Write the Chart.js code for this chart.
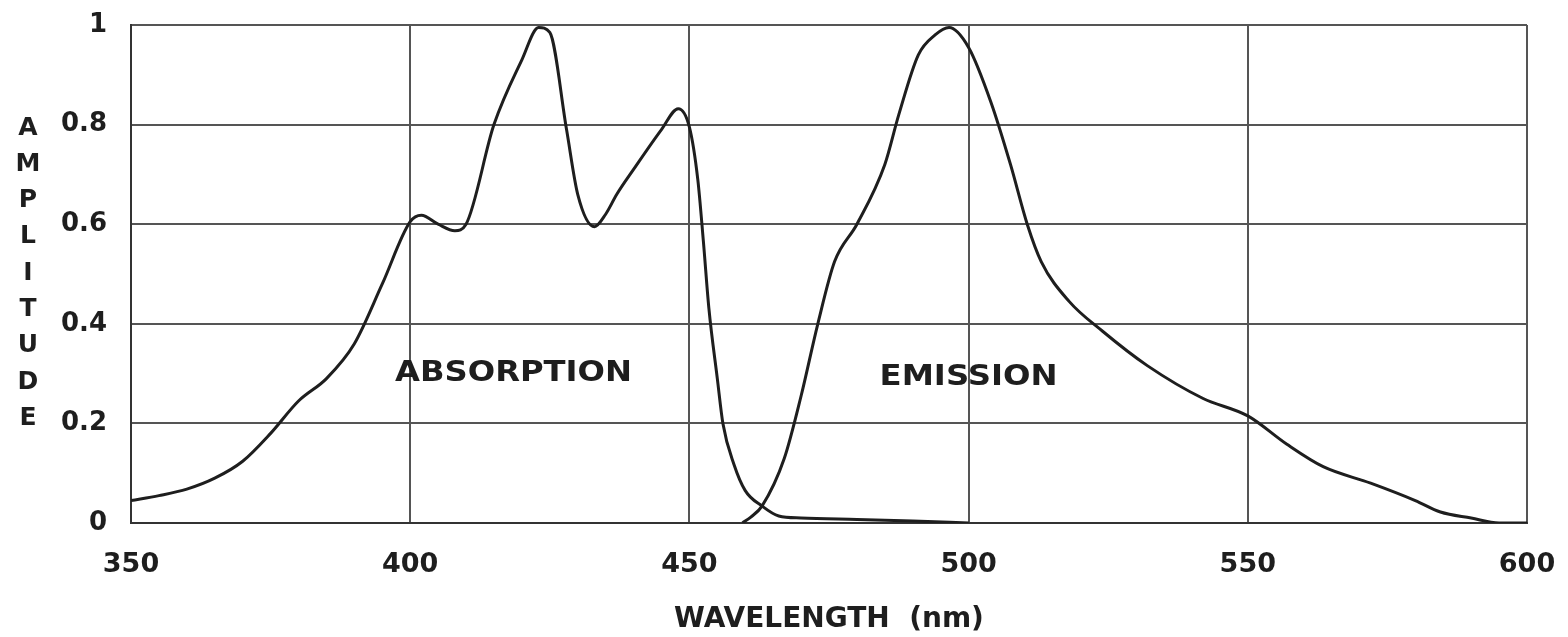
<!DOCTYPE html>
<html>
<head>
<meta charset="utf-8">
<script src="https://cdn.jsdelivr.net/npm/chart.js@4/dist/chart.umd.min.js"></script>
<style>
  html, body { margin: 0; padding: 0; background: #fff; }
  #wrap { width: 1568px; height: 637px; }
</style>
</head>
<body>
<div id="wrap"><canvas id="spectrum"></canvas></div>
<script>
// wavelengths (nm) and amplitudes
const absWavelength = [350, 355, 360, 365, 370, 375, 380, 385, 390, 395, 400, 402, 405, 408, 410, 415, 420, 423, 425, 428, 430, 433, 435, 437, 440, 445, 448, 450, 451.5, 452.5, 453.5, 455, 456, 458, 460, 463, 466, 470, 480, 490, 500];
const absAmplitude  = [0.045, 0.055, 0.068, 0.09, 0.124, 0.18, 0.245, 0.29, 0.36, 0.48, 0.605, 0.618, 0.6, 0.587, 0.6, 0.8, 0.93, 0.995, 0.985, 0.79, 0.66, 0.595, 0.62, 0.66, 0.71, 0.79, 0.832, 0.795, 0.69, 0.566, 0.43, 0.29, 0.2, 0.117, 0.065, 0.034, 0.014, 0.01, 0.007, 0.004, 0.0];

const emWavelength = [459.5, 461, 463, 467, 470, 473, 476, 480, 485, 487.5, 491, 494, 496.5, 500, 504, 507.5, 510.5, 513, 518, 524, 532, 542, 550, 557, 563.5, 572, 580, 584.5, 590, 595, 600];
const emAmplitude  = [0.0, 0.012, 0.034, 0.13, 0.255, 0.4, 0.525, 0.6, 0.72, 0.82, 0.94, 0.98, 0.995, 0.955, 0.845, 0.72, 0.6, 0.525, 0.445, 0.385, 0.316, 0.25, 0.215, 0.158, 0.113, 0.08, 0.045, 0.022, 0.01, 0.0, 0.0];

const xTicks = [350, 400, 450, 500, 550, 600];
const yTicks = [0, 0.2, 0.4, 0.6, 0.8, 1];
const yTitleLetters = ['A', 'M', 'P', 'L', 'I', 'T', 'U', 'D', 'E'];

const ink = '#1e1e1e';
const fontFamily = '"DejaVu Sans", "Liberation Sans", sans-serif';

function toPoints(xs, ys) {
  return xs.map((x, i) => ({ x: x, y: ys[i] }));
}

// draw text stretched sideways to a given width (the scan uses a wide face)
function wideText(ctx, text, cx, cy, width) {
  const w = ctx.measureText(text).width;
  ctx.save();
  ctx.translate(cx, cy);
  ctx.scale(width / w, 1);
  ctx.fillText(text, 0, 0);
  ctx.restore();
}

// curve names and the stacked y title
const labelsPlugin = {
  id: 'curveLabels',
  afterDraw(chart) {
    const ctx = chart.ctx;
    const xs = chart.scales.x, ys = chart.scales.y;
    ctx.save();
    ctx.fillStyle = ink;
    ctx.textAlign = 'center';
    ctx.textBaseline = 'middle';
    ctx.font = 'bold 28px ' + fontFamily;
    wideText(ctx, 'ABSORPTION', xs.getPixelForValue(418.5), ys.getPixelForValue(0.3), 237);
    wideText(ctx, 'EMISSION', xs.getPixelForValue(500), ys.getPixelForValue(0.292), 178);
    ctx.font = 'bold 25px ' + fontFamily;
    yTitleLetters.forEach((ch, i) => {
      ctx.fillText(ch, 28, 128 + i * 36.3);
    });
    ctx.restore();
  }
};

new Chart(document.getElementById('spectrum'), {
  type: 'line',
  data: {
    datasets: [
      { label: 'Absorption', data: toPoints(absWavelength, absAmplitude) },
      { label: 'Emission', data: toPoints(emWavelength, emAmplitude) }
    ]
  },
  options: {
    responsive: true,
    maintainAspectRatio: false,
    animation: false,
    layout: { padding: { top: 25, right: 41, bottom: 0, left: 0 } },
    elements: {
      line: { borderColor: ink, borderWidth: 3, cubicInterpolationMode: 'monotone', fill: false },
      point: { radius: 0 }
    },
    plugins: {
      legend: { display: false },
      tooltip: { enabled: false }
    },
    scales: {
      x: {
        type: 'linear',
        min: 350,
        max: 600,
        afterBuildTicks: (scale) => { scale.ticks = xTicks.map(v => ({ value: v })); },
        afterFit: (scale) => {
          scale.height = 114;
          scale.paddingLeft = 0;
          scale.paddingRight = 0;
        },
        grid: { color: '#555', lineWidth: 2, drawTicks: false },
        border: { color: '#333', width: 2 },
        ticks: { color: ink, padding: 26, font: { family: fontFamily, size: 27, weight: 'bold' } },
        title: {
          display: true,
          text: 'WAVELENGTH  (nm)',
          color: ink,
          padding: { top: 10, bottom: 0 },
          font: { family: fontFamily, size: 28, weight: 'bold' }
        }
      },
      y: {
        min: 0,
        max: 1,
        afterBuildTicks: (scale) => { scale.ticks = yTicks.map(v => ({ value: v })); },
        afterFit: (scale) => {
          scale.width = 131;
          scale.paddingTop = 0;
          scale.paddingBottom = 0;
        },
        grid: { color: '#555', lineWidth: 2, drawTicks: false },
        border: { color: '#333', width: 2 },
        ticks: {
          color: ink,
          padding: 24,
          font: { family: fontFamily, size: 26, weight: 'bold' },
          callback: (v) => String(Math.round(v * 10) / 10)
        }
      }
    }
  },
  plugins: [labelsPlugin]
});
</script>
</body>
</html>
